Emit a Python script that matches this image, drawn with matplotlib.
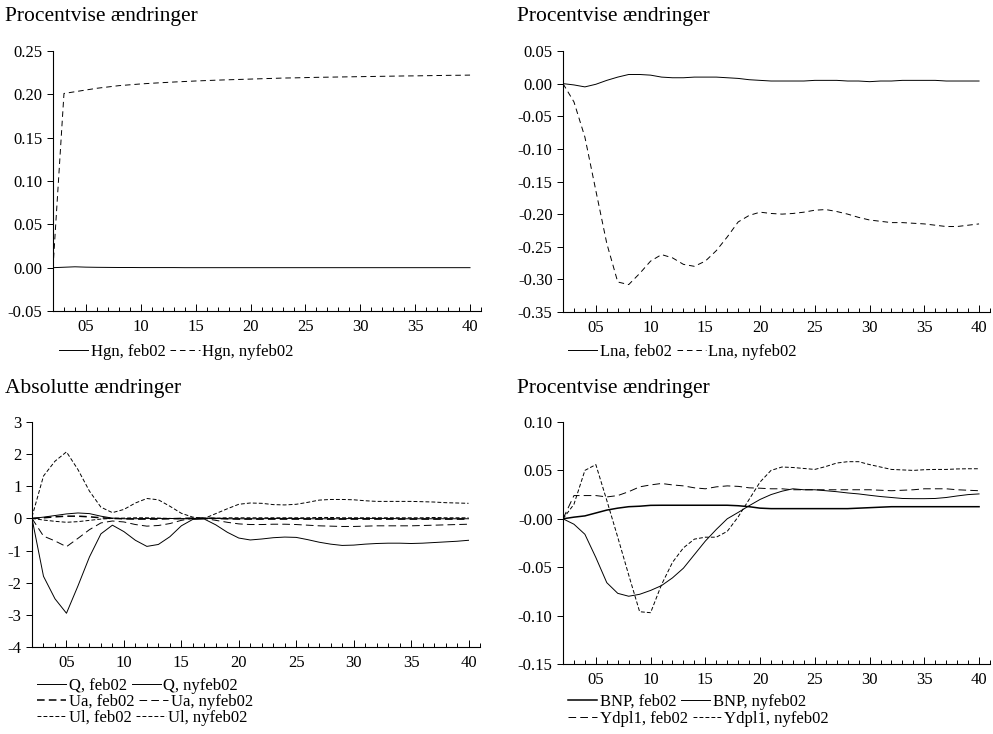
import matplotlib
matplotlib.use("Agg")
import matplotlib.pyplot as plt
from matplotlib.ticker import FixedLocator, FixedFormatter

plt.rcParams["font.family"] = ["Liberation Serif", "DejaVu Serif"]
plt.rcParams["font.size"] = 12
plt.rcParams["axes.unicode_minus"] = False
plt.rcParams["lines.scale_dashes"] = False

# --- data (periods 2..40) ---
periods = list(range(2, 41))

hgn_feb02 = [0.0, 0.0005, 0.001, 0.0006, 0.0004, 0.0003, 0.0002, 0.0002, 0.0001, 0.0001,
             0.0001, 0.0001, 0.0, 0.0, 0.0, 0.0, 0.0, 0.0, 0.0, 0.0,
             0.0, 0.0, 0.0, 0.0, 0.0, 0.0, 0.0, 0.0, 0.0, 0.0,
             0.0, 0.0, 0.0, 0.0, 0.0, 0.0, 0.0, 0.0, 0.0]
hgn_nyfeb02 = [0.0, 0.201, 0.203, 0.205, 0.207, 0.2085, 0.210, 0.211, 0.212, 0.2128,
               0.2135, 0.2142, 0.2148, 0.2154, 0.2159, 0.2164, 0.2168, 0.2172, 0.2176, 0.218,
               0.2184, 0.2188, 0.219, 0.2193, 0.2196, 0.2198, 0.220, 0.2202, 0.2204, 0.2206,
               0.2208, 0.221, 0.2212, 0.2213, 0.2215, 0.2217, 0.2219, 0.222, 0.2222]

lna_feb02 = [0.0, -0.002, -0.005, -0.001, 0.005, 0.010, 0.014, 0.014, 0.013, 0.010,
             0.009, 0.009, 0.010, 0.010, 0.010, 0.009, 0.008, 0.006, 0.005, 0.004,
             0.004, 0.004, 0.004, 0.005, 0.005, 0.005, 0.004, 0.004, 0.003, 0.004,
             0.004, 0.005, 0.005, 0.005, 0.005, 0.004, 0.004, 0.004, 0.004]
lna_nyfeb02 = [0.0, -0.028, -0.082, -0.164, -0.245, -0.304, -0.308, -0.291, -0.272, -0.262,
               -0.267, -0.277, -0.280, -0.272, -0.256, -0.235, -0.212, -0.202, -0.197, -0.199,
               -0.200, -0.199, -0.197, -0.194, -0.193, -0.196, -0.200, -0.205, -0.209, -0.211,
               -0.213, -0.213, -0.214, -0.215, -0.217, -0.219, -0.219, -0.217, -0.215]

q_feb02 = [0.0, 0.04, 0.09, 0.14, 0.17, 0.15, 0.07, 0.01, -0.01, -0.01,
           0.0, 0.0, 0.0, -0.01, -0.01, 0.0, 0.0, -0.01, -0.01, -0.01,
           -0.01, 0.0, 0.0, 0.0, -0.01, -0.01, -0.01, -0.01, 0.0, 0.0,
           0.0, 0.0, -0.01, -0.01, -0.01, -0.01, -0.01, -0.01, -0.01]
q_nyfeb02 = [0.0, -1.80, -2.50, -2.95, -2.10, -1.20, -0.48, -0.21, -0.41, -0.68,
             -0.87, -0.81, -0.57, -0.23, -0.03, -0.02, -0.20, -0.43, -0.61, -0.67,
             -0.64, -0.60, -0.58, -0.59, -0.66, -0.74, -0.80, -0.84, -0.83, -0.80,
             -0.78, -0.77, -0.77, -0.78, -0.77, -0.75, -0.73, -0.71, -0.68]
ua_feb02 = [0.0, 0.02, 0.05, 0.07, 0.07, 0.05, 0.02, 0.0, -0.01, -0.02,
            -0.02, -0.02, -0.01, 0.0, 0.01, 0.01, 0.0, -0.01, -0.02, -0.02,
            -0.02, -0.02, -0.02, -0.02, -0.02, -0.02, -0.02, -0.02, -0.02, -0.02,
            -0.02, -0.02, -0.02, -0.02, -0.02, -0.02, -0.02, -0.02, -0.02]
ua_nyfeb02 = [0.0, -0.55, -0.70, -0.88, -0.62, -0.35, -0.14, -0.08, -0.11, -0.19,
              -0.24, -0.22, -0.16, -0.06, 0.0, 0.0, -0.06, -0.12, -0.17, -0.19,
              -0.19, -0.18, -0.18, -0.19, -0.21, -0.23, -0.24, -0.25, -0.25, -0.24,
              -0.23, -0.23, -0.23, -0.23, -0.22, -0.21, -0.20, -0.19, -0.18]
ul_feb02 = [0.0, -0.05, -0.09, -0.12, -0.10, -0.06, -0.02, 0.0, 0.01, 0.02,
            0.02, 0.01, 0.0, -0.01, 0.0, 0.01, 0.01, 0.02, 0.02, 0.02,
            0.02, 0.02, 0.02, 0.02, 0.02, 0.03, 0.03, 0.02, 0.02, 0.02,
            0.02, 0.02, 0.02, 0.02, 0.02, 0.03, 0.02, 0.02, 0.02]
ul_nyfeb02 = [0.05, 1.32, 1.78, 2.07, 1.52, 0.85, 0.35, 0.18, 0.28, 0.48,
              0.62, 0.58, 0.38, 0.16, 0.04, 0.0, 0.15, 0.30, 0.44, 0.48,
              0.47, 0.43, 0.42, 0.44, 0.50, 0.57, 0.59, 0.59, 0.58, 0.55,
              0.53, 0.53, 0.53, 0.53, 0.52, 0.51, 0.49, 0.48, 0.47]

bnp_feb02 = [0.0, 0.0017, 0.003, 0.006, 0.009, 0.011, 0.0125, 0.013, 0.0139, 0.014,
             0.014, 0.014, 0.014, 0.014, 0.014, 0.014, 0.0135, 0.0125, 0.011, 0.0105,
             0.0105, 0.0105, 0.0105, 0.0105, 0.0105, 0.0105, 0.0105, 0.011, 0.0115, 0.012,
             0.0125, 0.0125, 0.0125, 0.0125, 0.0125, 0.0125, 0.0125, 0.0125, 0.0125]
bnp_nyfeb02 = [0.0, -0.0056, -0.016, -0.040, -0.066, -0.077, -0.080, -0.078, -0.074, -0.069,
               -0.061, -0.051, -0.037, -0.023, -0.011, 0.0, 0.0066, 0.0135, 0.020, 0.025,
               0.0285, 0.031, 0.030, 0.030, 0.029, 0.028, 0.0267, 0.0257, 0.0243, 0.023,
               0.022, 0.021, 0.0208, 0.0208, 0.021, 0.022, 0.0236, 0.025, 0.0257]
ydpl1_feb02 = [0.0, 0.024, 0.024, 0.024, 0.0226, 0.024, 0.028, 0.033, 0.035, 0.0365,
               0.035, 0.034, 0.032, 0.031, 0.033, 0.034, 0.0335, 0.032, 0.0316, 0.031,
               0.031, 0.030, 0.030, 0.030, 0.030, 0.030, 0.030, 0.030, 0.030, 0.0295,
               0.029, 0.0295, 0.030, 0.031, 0.031, 0.031, 0.030, 0.0295, 0.029]
ydpl1_nyfeb02 = [0.0, 0.015, 0.050, 0.056, 0.019, -0.019, -0.058, -0.096, -0.097, -0.068,
                 -0.045, -0.030, -0.021, -0.019, -0.019, -0.013, 0.002, 0.020, 0.038, 0.050,
                 0.0535, 0.053, 0.052, 0.051, 0.054, 0.0576, 0.059, 0.059, 0.056, 0.0535,
                 0.051, 0.0505, 0.050, 0.0507, 0.051, 0.051, 0.0515, 0.0517, 0.0517]

xtick_pos = [5, 10, 15, 20, 25, 30, 35, 40]
xtick_labels = ["05", "10", "15", "20", "25", "30", "35", "40"]

W, H = 993, 734
fig = plt.figure(figsize=(W / 100, H / 100), dpi=100)


def make_axes(left, top, right, bottom):
    return fig.add_axes([left / W, 1 - bottom / H, (right - left) / W, (bottom - top) / H])


def style(ax, yticks, ylabels):
    ax.set_xlim(2, 41)
    ax.set_ylim(yticks[0], yticks[-1])
    ax.spines["top"].set_visible(False)
    ax.spines["right"].set_visible(False)
    for s in ("left", "bottom"):
        ax.spines[s].set_linewidth(0.8)
    ax.xaxis.set_major_locator(FixedLocator(xtick_pos))
    ax.xaxis.set_major_formatter(FixedFormatter(xtick_labels))
    ax.xaxis.set_minor_locator(FixedLocator(list(range(2, 42))))
    ax.yaxis.set_major_locator(FixedLocator(yticks))
    ax.yaxis.set_major_formatter(FixedFormatter(ylabels))
    ax.tick_params(axis="x", which="major", direction="in", length=5, width=0.7, pad=6, labelsize=12)
    ax.tick_params(axis="x", which="minor", direction="in", length=3, width=0.7)
    ax.tick_params(axis="y", direction="out", length=4, width=0.7, pad=3.5, labelsize=12)


def legend_row(handles, x_px, y_px):
    leg = fig.legend(handles=handles, loc="center left", bbox_to_anchor=(x_px / W, 1 - y_px / H),
                     ncol=len(handles), frameon=False, handlelength=1.75, handletextpad=0.15,
                     columnspacing=0.3, borderpad=0, borderaxespad=0, fontsize=12)
    return leg


thin = 0.7
thick = 1.1
dash = (0, (4.0, 2.8))
longdash = (0, (5.5, 3.0))
shortdash = (0, (2.8, 1.5))

# --- top left: Hgn ---
ax1 = make_axes(53, 51, 481, 311)
h1, = ax1.plot(periods, hgn_feb02, color="black", lw=thin, label="Hgn, feb02")
h2, = ax1.plot(periods, hgn_nyfeb02, color="black", lw=thin, linestyle=dash, label="Hgn, nyfeb02")
style(ax1, [-0.05, 0.0, 0.05, 0.10, 0.15, 0.20, 0.25],
      ["-0.05", "0.00", "0.05", "0.10", "0.15", "0.20", "0.25"])
fig.text(5 / W, 1 - 16 / H, "Procentvise ændringer", fontsize=15.5, va="center", ha="left")
legend_row([h1, h2], 59, 352)

# --- top right: Lna ---
ax2 = make_axes(563, 51, 990, 312)
h1, = ax2.plot(periods, lna_feb02, color="black", lw=thin, label="Lna, feb02")
h2, = ax2.plot(periods, lna_nyfeb02, color="black", lw=thin, linestyle=dash, label="Lna, nyfeb02")
style(ax2, [-0.35, -0.30, -0.25, -0.20, -0.15, -0.10, -0.05, 0.0, 0.05],
      ["-0.35", "-0.30", "-0.25", "-0.20", "-0.15", "-0.10", "-0.05", "0.00", "0.05"])
fig.text(517 / W, 1 - 16 / H, "Procentvise ændringer", fontsize=15.5, va="center", ha="left")
legend_row([h1, h2], 568, 352)

# --- bottom left: Q, Ua, Ul ---
ax3 = make_axes(32, 422, 480, 647)
h1, = ax3.plot(periods, q_feb02, color="black", lw=thin, label="Q, feb02")
h2, = ax3.plot(periods, q_nyfeb02, color="black", lw=thin, label="Q, nyfeb02")
h3, = ax3.plot(periods, ua_feb02, color="black", lw=thick, linestyle=longdash, label="Ua, feb02")
h4, = ax3.plot(periods, ua_nyfeb02, color="black", lw=thin, linestyle=longdash, label="Ua, nyfeb02")
h5, = ax3.plot(periods, ul_feb02, color="black", lw=thin, linestyle=shortdash, label="Ul, feb02")
h6, = ax3.plot(periods, ul_nyfeb02, color="black", lw=thin, linestyle=shortdash, label="Ul, nyfeb02")
style(ax3, [-4, -3, -2, -1, 0, 1, 2, 3], ["-4", "-3", "-2", "-1", "0", "1", "2", "3"])
fig.text(5 / W, 1 - 388 / H, "Absolutte ændringer", fontsize=15.5, va="center", ha="left")
legend_row([h1, h2], 37, 686)
legend_row([h3, h4], 37, 702)
legend_row([h5, h6], 37, 718)

# --- bottom right: BNP, Ydpl1 ---
ax4 = make_axes(563, 422, 990, 664)
h1, = ax4.plot(periods, bnp_feb02, color="black", lw=thick, label="BNP, feb02")
h2, = ax4.plot(periods, bnp_nyfeb02, color="black", lw=thin, label="BNP, nyfeb02")
h3, = ax4.plot(periods, ydpl1_feb02, color="black", lw=thin, linestyle=longdash, label="Ydpl1, feb02")
h4, = ax4.plot(periods, ydpl1_nyfeb02, color="black", lw=thin, linestyle=shortdash, label="Ydpl1, nyfeb02")
style(ax4, [-0.15, -0.10, -0.05, 0.0, 0.05, 0.10],
      ["-0.15", "-0.10", "-0.05", "-0.00", "0.05", "0.10"])
fig.text(517 / W, 1 - 388 / H, "Procentvise ændringer", fontsize=15.5, va="center", ha="left")
legend_row([h1, h2], 568, 702)
legend_row([h3, h4], 568, 719)

fig.savefig("out.png", dpi=100)
